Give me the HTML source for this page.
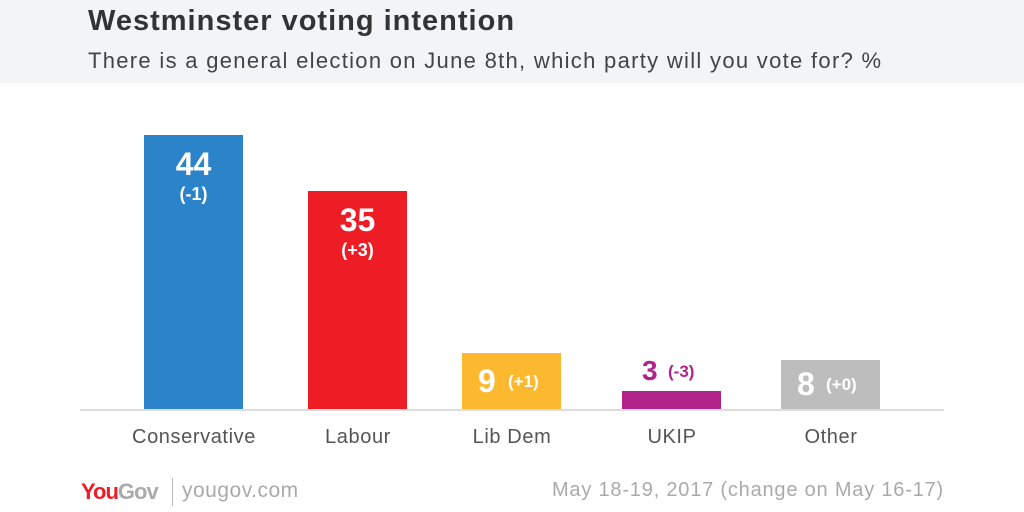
<!DOCTYPE html>
<html><head><style>
body{margin:0;width:1024px;height:512px;background:#fff;position:relative;overflow:hidden;font-family:"Liberation Sans",sans-serif}
.hdr{position:absolute;left:0;top:0;width:1024px;height:83px;background:#f3f4f5}
.t{position:absolute;left:88px;top:5px;font-size:29px;font-weight:bold;color:#333;letter-spacing:1px}
.s{position:absolute;left:88px;top:48px;font-size:22px;color:#444;letter-spacing:1.3px}
.bar{position:absolute;width:99px}
.v{position:absolute;color:#fff;font-weight:bold;text-align:center}
.lab{position:absolute;top:426px;font-size:20px;color:#555;text-align:center;width:200px;letter-spacing:0.6px}
.ax{position:absolute;left:80px;top:409px;width:864px;height:2px;background:#ddd}
</style></head><body>
<div class="hdr"></div>
<div class="t">Westminster voting intention</div>
<div class="s">There is a general election on June 8th, which party will you vote for? %</div>

<div class="bar" style="left:144px;top:135px;height:275px;background:#2b83c9"></div>
<div class="v" style="left:144px;width:99px;top:146px;font-size:32px">44</div>
<div class="v" style="left:144px;width:99px;top:184px;font-size:18px">(-1)</div>

<div class="bar" style="left:308px;top:191px;height:219px;background:#ee1c25"></div>
<div class="v" style="left:308px;width:99px;top:202px;font-size:32px">35</div>
<div class="v" style="left:308px;width:99px;top:240px;font-size:18px">(+3)</div>

<div class="bar" style="left:462px;top:353px;height:57px;background:#fcb930"></div>
<div class="v" style="left:478px;top:363px;font-size:32px">9</div>
<div class="v" style="left:508px;top:372px;font-size:17px">(+1)</div>

<div class="bar" style="left:622px;top:391px;height:19px;background:#b02489"></div>
<div class="v" style="left:642px;top:355px;font-size:28px;color:#b02489">3</div>
<div class="v" style="left:668px;top:362px;font-size:17px;color:#b02489">(-3)</div>

<div class="bar" style="left:781px;top:360px;height:50px;background:#bdbdbd"></div>
<div class="v" style="left:797px;top:366px;font-size:32px">8</div>
<div class="v" style="left:826px;top:375px;font-size:17px">(+0)</div>

<div class="ax"></div>
<div class="lab" style="left:94px">Conservative</div>
<div class="lab" style="left:258px">Labour</div>
<div class="lab" style="left:412px">Lib Dem</div>
<div class="lab" style="left:572px">UKIP</div>
<div class="lab" style="left:731px">Other</div>

<div style="position:absolute;left:81px;top:479px;font-size:22px;font-weight:bold;letter-spacing:-1px"><span style="color:#ee1c25">You</span><span style="color:#aaa">Gov</span></div>
<div style="position:absolute;left:172px;top:478px;width:1px;height:28px;background:#bbb"></div>
<div style="position:absolute;left:182px;top:479px;font-size:21px;color:#aaa;letter-spacing:0.5px">yougov.com</div>
<div style="position:absolute;right:80px;top:479px;font-size:20px;color:#aaa;letter-spacing:0.8px">May 18-19, 2017 (change on May 16-17)</div>
</body></html>
